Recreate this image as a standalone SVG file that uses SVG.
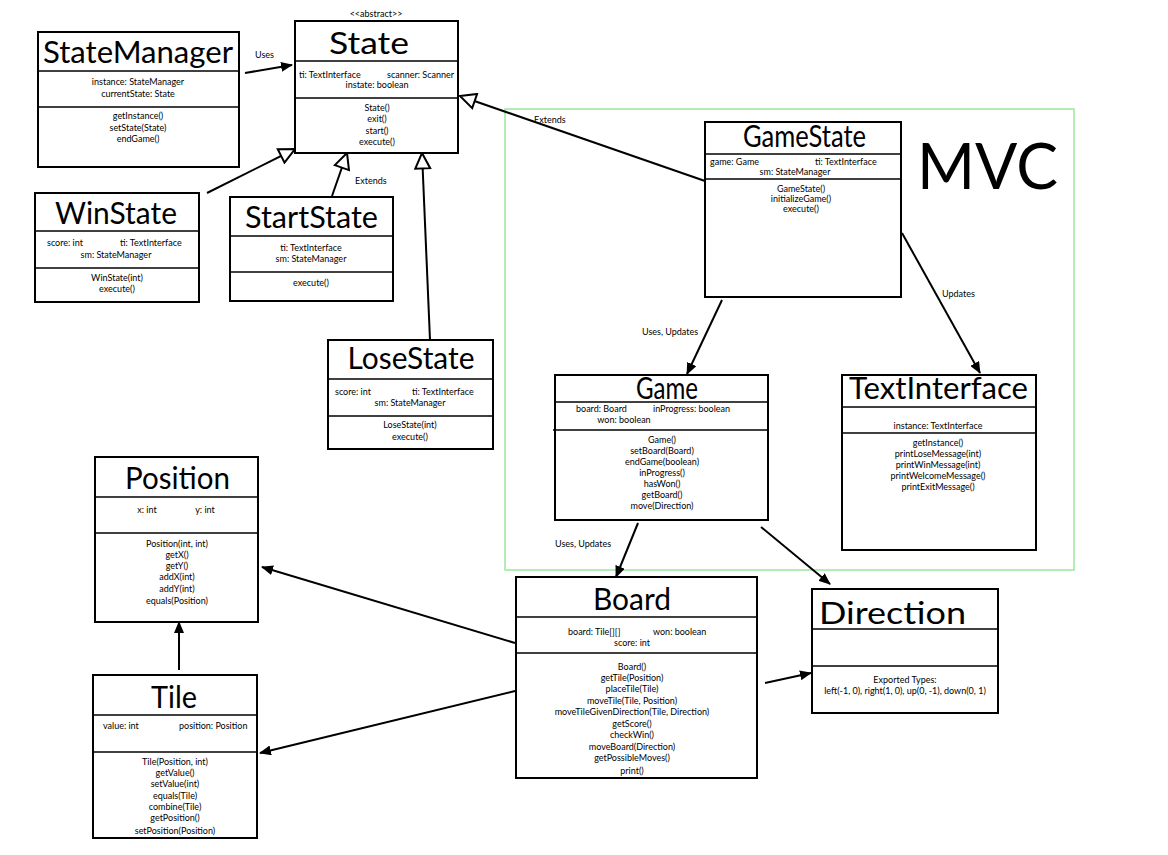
<svg xmlns="http://www.w3.org/2000/svg" width="1168" height="855" viewBox="0 0 1168 855">
<style>
.box{fill:#fff;stroke:#000;stroke-width:2}
.div{stroke:#000;stroke-width:1.6}
.title{font-family:Lato,"Open Sans","Liberation Sans",sans-serif;font-size:30px;fill:#000;text-anchor:middle}
.t{font-family:Lato,"Liberation Sans",sans-serif;font-size:9px;fill:#000;text-anchor:middle}
.l{text-anchor:start}
.r{text-anchor:end}
.lbl{font-family:Lato,"Liberation Sans",sans-serif;font-size:9px;fill:#000}
.conn{stroke:#000;stroke-width:2;fill:none}
</style>
<defs>
<marker id="filled" viewBox="0 0 12 10" refX="11" refY="5" markerWidth="12" markerHeight="10" markerUnits="userSpaceOnUse" orient="auto"><path d="M0,0 L12,5 L0,10 z" fill="#000"/></marker>
<marker id="hollow" viewBox="0 0 18 18" refX="17" refY="9" markerWidth="18" markerHeight="18" markerUnits="userSpaceOnUse" orient="auto"><path d="M1.5,1.5 L17,9 L1.5,16.5 z" fill="#fff" stroke="#000" stroke-width="2"/></marker>
</defs>
<rect width="1168" height="855" fill="#fff"/>

<rect id="mvc-frame" x="505" y="109" width="569" height="461" fill="none" stroke="#9be89b" stroke-width="1.5"/>
<text x="917" y="189" font-family="Lato,'Open Sans','Liberation Sans',sans-serif" font-size="64" textLength="141" lengthAdjust="spacingAndGlyphs">MVC</text>

<g id="connectors">
<line class="conn" x1="245" y1="73" x2="292" y2="65" marker-end="url(#filled)"/>
<line class="conn" x1="207" y1="193" x2="295" y2="149" marker-end="url(#hollow)"/>
<line class="conn" x1="332" y1="196" x2="347" y2="153" marker-end="url(#hollow)"/>
<line class="conn" x1="430" y1="340" x2="422" y2="153" marker-end="url(#hollow)"/>
<line class="conn" x1="705" y1="181" x2="460" y2="96" marker-end="url(#hollow)"/>
<line class="conn" x1="722" y1="300" x2="687" y2="374" marker-end="url(#filled)"/>
<line class="conn" x1="902" y1="233" x2="980" y2="373" marker-end="url(#filled)"/>
<line class="conn" x1="638" y1="523" x2="616" y2="577" marker-end="url(#filled)"/>
<line class="conn" x1="761" y1="527" x2="830" y2="584" marker-end="url(#filled)"/>
<line class="conn" x1="515" y1="643" x2="262" y2="567" marker-end="url(#filled)"/>
<line class="conn" x1="515" y1="691" x2="260" y2="753" marker-end="url(#filled)"/>
<line class="conn" x1="179" y1="670" x2="179" y2="622" marker-end="url(#filled)"/>
<line class="conn" x1="765" y1="683" x2="811" y2="673" marker-end="url(#filled)"/>
<text class="lbl" x="255" y="58">Uses</text>
<text class="lbl" x="355" y="184">Extends</text>
<text class="lbl" x="534" y="123">Extends</text>
<text class="lbl" x="642" y="335">Uses, Updates</text>
<text class="lbl" x="942" y="297">Updates</text>
<text class="lbl" x="555" y="547">Uses, Updates</text>
</g>

<g id="StateManager">
<rect class="box" x="38" y="32" width="201" height="135"/>
<line class="div" x1="38" y1="71" x2="239" y2="71"/>
<line class="div" x1="38" y1="107" x2="239" y2="107"/>
<text class="title" x="138" y="63" textLength="190" lengthAdjust="spacingAndGlyphs">StateManager</text>
<text class="t" x="138" y="85">instance: StateManager</text>
<text class="t" x="138" y="97">currentState: State</text>
<text class="t" x="138" y="119">getInstance()</text>
<text class="t" x="138" y="131">setState(State)</text>
<text class="t" x="138" y="142">endGame()</text>
</g>

<g id="State">
<text class="t" x="376" y="17" font-size="7.5">&lt;&lt;abstract&gt;&gt;</text>
<rect class="box" x="295" y="21" width="163" height="132"/>
<line class="div" x1="295" y1="61" x2="458" y2="61"/>
<line class="div" x1="295" y1="98" x2="458" y2="98"/>
<text class="title" x="369" y="54" textLength="80" lengthAdjust="spacingAndGlyphs">State</text>
<text class="t l" x="299" y="78">ti: TextInterface</text>
<text class="t r" x="454" y="78">scanner: Scanner</text>
<text class="t" x="377" y="88">instate: boolean</text>
<text class="t" x="377" y="111">State()</text>
<text class="t" x="377" y="122">exit()</text>
<text class="t" x="377" y="134">start()</text>
<text class="t" x="377" y="145">execute()</text>
</g>

<g id="WinState">
<rect class="box" x="35" y="193" width="164" height="109"/>
<line class="div" x1="35" y1="231" x2="199" y2="231"/>
<line class="div" x1="35" y1="268" x2="199" y2="268"/>
<text class="title" x="116" y="224" textLength="122" lengthAdjust="spacingAndGlyphs">WinState</text>
<text class="t l" x="47" y="246">score: int</text>
<text class="t l" x="120" y="246">ti: TextInterface</text>
<text class="t" x="116" y="258">sm: StateManager</text>
<text class="t" x="117" y="281">WinState(int)</text>
<text class="t" x="117" y="292">execute()</text>
</g>

<g id="StartState">
<rect class="box" x="230" y="197" width="163" height="104"/>
<line class="div" x1="230" y1="236" x2="393" y2="236"/>
<line class="div" x1="230" y1="272" x2="393" y2="272"/>
<text class="title" x="311.5" y="228" textLength="133" lengthAdjust="spacingAndGlyphs">StartState</text>
<text class="t" x="311" y="251">ti: TextInterface</text>
<text class="t" x="311" y="262">sm: StateManager</text>
<text class="t" x="311" y="286">execute()</text>
</g>

<g id="LoseState">
<rect class="box" x="328" y="340" width="165" height="109"/>
<line class="div" x1="328" y1="379" x2="493" y2="379"/>
<line class="div" x1="328" y1="416" x2="493" y2="416"/>
<text class="title" x="411" y="369" textLength="127" lengthAdjust="spacingAndGlyphs">LoseState</text>
<text class="t l" x="335" y="395">score: int</text>
<text class="t l" x="412" y="395">ti: TextInterface</text>
<text class="t" x="410" y="406">sm: StateManager</text>
<text class="t" x="410" y="428">LoseState(int)</text>
<text class="t" x="410" y="440">execute()</text>
</g>

<g id="GameState">
<rect class="box" x="705" y="122" width="196" height="175"/>
<line class="div" x1="705" y1="154" x2="901" y2="154"/>
<line class="div" x1="705" y1="179" x2="901" y2="179"/>
<text class="title" x="804.5" y="147" font-size="27" textLength="123" lengthAdjust="spacingAndGlyphs">GameState</text>
<text class="t l" x="710" y="165">game: Game</text>
<text class="t l" x="815" y="165">ti: TextInterface</text>
<text class="t" x="795" y="175">sm: StateManager</text>
<text class="t" x="801" y="192">GameState()</text>
<text class="t" x="801" y="202">initializeGame()</text>
<text class="t" x="801" y="212">execute()</text>
</g>

<g id="Game">
<rect class="box" x="555" y="375" width="213" height="145"/>
<line class="div" x1="555" y1="402" x2="768" y2="402"/>
<line class="div" x1="553" y1="430" x2="768" y2="430"/>
<text class="title" x="667" y="399" textLength="62" lengthAdjust="spacingAndGlyphs">Game</text>
<text class="t l" x="576" y="412">board: Board</text>
<text class="t l" x="653" y="412">inProgress: boolean</text>
<text class="t" x="624" y="423">won: boolean</text>
<text class="t" x="662" y="443">Game()</text>
<text class="t" x="662" y="454">setBoard(Board)</text>
<text class="t" x="662" y="465">endGame(boolean)</text>
<text class="t" x="662" y="476">inProgress()</text>
<text class="t" x="662" y="487">hasWon()</text>
<text class="t" x="662" y="498">getBoard()</text>
<text class="t" x="662" y="509">move(Direction)</text>
</g>

<g id="TextInterface">
<rect class="box" x="842" y="375" width="194" height="175"/>
<line class="div" x1="842" y1="407" x2="1036" y2="407"/>
<line class="div" x1="842" y1="433" x2="1036" y2="433"/>
<text class="title" x="938.5" y="399" textLength="179" lengthAdjust="spacingAndGlyphs">TextInterface</text>
<text class="t" x="938" y="429">instance: TextInterface</text>
<text class="t" x="938" y="446">getInstance()</text>
<text class="t" x="938" y="457">printLoseMessage(int)</text>
<text class="t" x="938" y="468">printWinMessage(int)</text>
<text class="t" x="938" y="479">printWelcomeMessage()</text>
<text class="t" x="938" y="490">printExitMessage()</text>
</g>

<g id="Position">
<rect class="box" x="95" y="457" width="163" height="165"/>
<line class="div" x1="95" y1="497" x2="258" y2="497"/>
<line class="div" x1="95" y1="533" x2="258" y2="533"/>
<text class="title" x="177.5" y="489" textLength="105" lengthAdjust="spacingAndGlyphs">Position</text>
<text class="t" x="147" y="513">x: int</text>
<text class="t" x="205" y="513">y: int</text>
<text class="t" x="177" y="547">Position(int, int)</text>
<text class="t" x="177" y="558">getX()</text>
<text class="t" x="177" y="569">getY()</text>
<text class="t" x="177" y="580">addX(int)</text>
<text class="t" x="177" y="592">addY(int)</text>
<text class="t" x="177" y="604">equals(Position)</text>
</g>

<g id="Tile">
<rect class="box" x="93" y="675" width="164" height="163"/>
<line class="div" x1="93" y1="715" x2="257" y2="715"/>
<line class="div" x1="93" y1="752" x2="257" y2="752"/>
<text class="title" x="174" y="708" textLength="46" lengthAdjust="spacingAndGlyphs">Tile</text>
<text class="t l" x="103" y="729">value: int</text>
<text class="t l" x="179" y="729">position: Position</text>
<text class="t" x="175" y="765">Tile(Position, int)</text>
<text class="t" x="175" y="776">getValue()</text>
<text class="t" x="175" y="787">setValue(int)</text>
<text class="t" x="175" y="799">equals(Tile)</text>
<text class="t" x="175" y="810">combine(Tile)</text>
<text class="t" x="175" y="821">getPosition()</text>
<text class="t" x="175" y="834">setPosition(Position)</text>
</g>

<g id="Board">
<rect class="box" x="516" y="577" width="241" height="201"/>
<line class="div" x1="516" y1="617" x2="757" y2="617"/>
<line class="div" x1="516" y1="653" x2="757" y2="653"/>
<text class="title" x="632" y="610" textLength="78" lengthAdjust="spacingAndGlyphs">Board</text>
<text class="t l" x="568" y="635">board: Tile[][]</text>
<text class="t l" x="653" y="635">won: boolean</text>
<text class="t" x="632" y="646">score: int</text>
<text class="t" x="632" y="670">Board()</text>
<text class="t" x="632" y="681">getTile(Position)</text>
<text class="t" x="632" y="692">placeTile(Tile)</text>
<text class="t" x="632" y="704">moveTile(Tile, Position)</text>
<text class="t" x="632" y="715">moveTileGivenDirection(Tile, Direction)</text>
<text class="t" x="632" y="727">getScore()</text>
<text class="t" x="632" y="738">checkWin()</text>
<text class="t" x="632" y="750">moveBoard(Direction)</text>
<text class="t" x="632" y="761">getPossibleMoves()</text>
<text class="t" x="632" y="774">print()</text>
</g>

<g id="Direction">
<rect class="box" x="812" y="589" width="186" height="124"/>
<line class="div" x1="812" y1="629" x2="998" y2="629"/>
<line class="div" x1="812" y1="666" x2="998" y2="666"/>
<text class="title" x="892.5" y="624" textLength="147" lengthAdjust="spacingAndGlyphs">Direction</text>
<text class="t" x="905" y="683">Exported Types:</text>
<text class="t" x="905" y="694">left(-1, 0), right(1, 0), up(0, -1), down(0, 1)</text>
</g>
</svg>
